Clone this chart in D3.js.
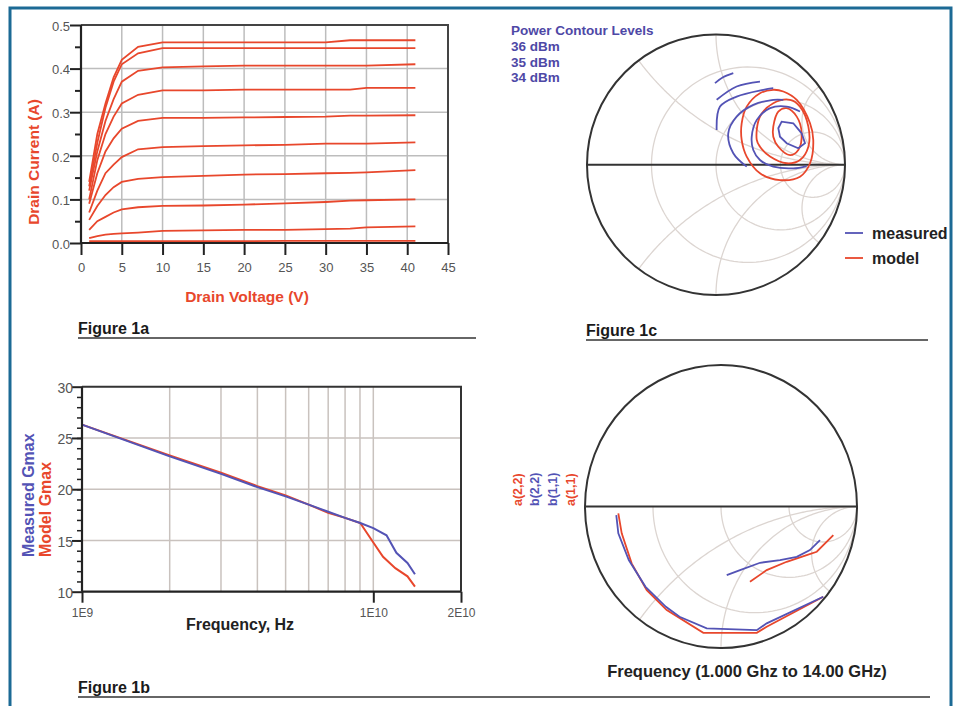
<!DOCTYPE html>
<html>
<head>
<meta charset="utf-8">
<script src="https://cdn.jsdelivr.net/npm/d3@7"></script>
<style>
  body { margin: 0; background: #fff; }
  svg { display: block; }
  text { font-family: "Liberation Sans", Arial, sans-serif; }
</style>
</head>
<body>
<svg id="chart" width="960" height="706"></svg>
<script>
// ---------- Figure 1a : I-V curves ----------
var drainVoltage = [1, 2, 3, 4, 5, 7, 10, 15, 20, 25, 30, 33, 35, 41];
var idCurve1  = [0.14, 0.25, 0.32, 0.38, 0.42, 0.45, 0.46, 0.46, 0.46, 0.46, 0.46, 0.465, 0.465, 0.465];
var idCurve2  = [0.13, 0.23, 0.31, 0.37, 0.41, 0.435, 0.447, 0.447, 0.447, 0.447, 0.447, 0.447, 0.447, 0.447];
var idCurve3  = [0.12, 0.21, 0.28, 0.33, 0.37, 0.395, 0.403, 0.405, 0.407, 0.407, 0.407, 0.407, 0.407, 0.41];
var idCurve4  = [0.10, 0.19, 0.25, 0.29, 0.32, 0.34, 0.35, 0.35, 0.352, 0.352, 0.352, 0.352, 0.356, 0.356];
var idCurve5  = [0.09, 0.16, 0.21, 0.24, 0.262, 0.28, 0.287, 0.287, 0.288, 0.289, 0.29, 0.292, 0.292, 0.293];
var idCurve6  = [0.07, 0.12, 0.16, 0.18, 0.197, 0.215, 0.22, 0.222, 0.224, 0.225, 0.228, 0.228, 0.228, 0.231];
var idCurve7  = [0.053, 0.085, 0.11, 0.128, 0.14, 0.147, 0.151, 0.154, 0.157, 0.158, 0.16, 0.161, 0.162, 0.167];
var idCurve8  = [0.03, 0.05, 0.06, 0.07, 0.077, 0.082, 0.085, 0.086, 0.088, 0.091, 0.094, 0.097, 0.098, 0.1];
var idCurve9  = [0.011, 0.016, 0.019, 0.021, 0.022, 0.024, 0.028, 0.029, 0.03, 0.03, 0.032, 0.033, 0.036, 0.038];
var idCurve10 = [0.004, 0.004, 0.004, 0.004, 0.004, 0.004, 0.004, 0.004, 0.004, 0.005, 0.005, 0.005, 0.005, 0.005];
var voltageTicks = [0, 5, 10, 15, 20, 25, 30, 35, 40, 45];
var currentTicks = [0, 0.1, 0.2, 0.3, 0.4, 0.5];

// ---------- Figure 1b : Gmax vs frequency ----------
var freqMeasured = [1e9, 2e9, 3e9, 4e9, 5e9, 6e9, 7e9, 8e9, 9.02e9, 1.0e10, 1.11e10, 1.2e10, 1.31e10, 1.39e10];
var gmaxMeasured = [26.3, 23.2, 21.5, 20.2, 19.3, 18.5, 17.8, 17.2, 16.7, 16.2, 15.5, 13.8, 12.8, 11.7];
var freqModel    = [1e9, 2e9, 3e9, 4e9, 5e9, 6e9, 7e9, 8e9, 9.02e9, 1.0e10, 1.08e10, 1.19e10, 1.31e10, 1.39e10];
var gmaxModel    = [26.3, 23.3, 21.6, 20.3, 19.4, 18.5, 17.7, 17.2, 16.7, 14.8, 13.4, 12.3, 11.5, 10.5];
var gmaxTicks = [10, 15, 20, 25, 30];
var freqGrid = [2e9, 3e9, 4e9, 5e9, 6e9, 7e9, 8e9, 9e9, 1e10];
var freqLabels = [[1e9, "1E9"], [1e10, "1E10"], [2e10, "2E10"]];

// ---------- Figure 1c : power contours (reflection coefficient re, im) ----------
var measured36 = [[0.483,0.280],[0.509,0.330],[0.599,0.318],[0.664,0.241],[0.690,0.165],[0.638,0.126],[0.548,0.165],[0.496,0.215]];
var model36 = [[0.444,0.292],[0.483,0.408],[0.548,0.434],[0.626,0.369],[0.664,0.242],[0.638,0.113],[0.574,0.074],[0.483,0.138],[0.444,0.215]];
var model35 = [[0.316,0.190],[0.341,0.369],[0.444,0.472],[0.574,0.498],[0.651,0.446],[0.716,0.292],[0.716,0.138],[0.651,0.036],[0.548,0.011],[0.419,0.062],[0.341,0.138]];
var model34 = [[0.199,0.190],[0.199,0.318],[0.238,0.446],[0.341,0.549],[0.444,0.575],[0.522,0.562],[0.626,0.497],[0.729,0.318],[0.754,0.190],[0.729,0.011],[0.651,-0.092],[0.496,-0.118],[0.341,-0.066],[0.238,0.062]];
var measured35 = [[0.703,-0.010],[0.599,-0.028],[0.444,-0.015],[0.341,0.036],[0.289,0.113],[0.277,0.215],[0.316,0.344],[0.419,0.434],[0.548,0.446],[0.651,0.408]];
var measured34 = [[0.238,-0.015],[0.134,0.088],[0.095,0.241],[0.160,0.369],[0.289,0.459],[0.444,0.498],[0.522,0.498]];
var measuredArcA = [[-0.008,0.626],[0.054,0.671],[0.134,0.703]];
var measuredArcB = [[0.005,0.498],[0.160,0.600],[0.341,0.638]];
var measuredArcC = [[0.005,0.267],[0.031,0.446],[0.160,0.523],[0.367,0.575],[0.444,0.588]];
var contourLevels = ["36 dBm", "35 dBm", "34 dBm"];

// ---------- Figure 1d : a/b waves 1 to 14 GHz ----------
var b11 = [[-0.77,-0.06],[-0.755,-0.189],[-0.678,-0.378],[-0.555,-0.567],[-0.405,-0.708],[-0.305,-0.779],[-0.105,-0.861],[0.263,-0.873],[0.336,-0.825],[0.752,-0.637]];
var a11 = [[-0.755,-0.048],[-0.730,-0.189],[-0.657,-0.401],[-0.546,-0.590],[-0.399,-0.731],[-0.130,-0.892],[0.263,-0.892],[0.336,-0.849],[0.752,-0.637]];
var b22 = [[0.042,-0.484],[0.140,-0.449],[0.287,-0.397],[0.434,-0.378],[0.557,-0.355],[0.654,-0.307],[0.728,-0.237]];
var a22 = [[0.213,-0.531],[0.336,-0.449],[0.483,-0.390],[0.630,-0.343],[0.704,-0.319],[0.826,-0.201]];
var smithR = [1/3, 1, 3];
var smithX = [0.5, 1, 3];

var RED = "#e8472c", BLUE = "#5353b5", TITLE_BLUE = "#4e48a6", GRID = "#c9c2be", SMITH_GRID = "#dcd5d1";

var svg = d3.select("#chart");
svg.append("rect").attr("width", 960).attr("height", 706).attr("fill", "#fff");
svg.append("rect").attr("x", 10).attr("y", 8).attr("width", 941).attr("height", 720)
  .attr("fill", "none").attr("stroke", "#1c6a95").attr("stroke-width", 3);

function styleAxis(g, size) {
  g.select(".domain").remove();
  g.selectAll(".tick line").attr("stroke", "#222").attr("stroke-width", 2);
  g.selectAll(".tick text").attr("fill", "#555").attr("font-size", size || 13)
    .attr("font-family", "'Liberation Sans', Arial, sans-serif");
}

function figureLabel(txt, x, y, x2) {
  svg.append("text").attr("x", x).attr("y", y).attr("font-size", 16).attr("font-weight", "bold")
    .attr("fill", "#1a1a1a").text(txt);
  svg.append("line").attr("x1", x).attr("x2", x2).attr("y1", y + 4).attr("y2", y + 4)
    .attr("stroke", "#333").attr("stroke-width", 1.5);
}

// ================= Figure 1a =================
(function () {
  var x = d3.scaleLinear().domain([0, 45]).range([81, 448]);
  var y = d3.scaleLinear().domain([0, 0.5]).range([243, 25]);
  var g = svg.append("g");

  // grid
  g.selectAll(".vg").data(voltageTicks.slice(1, -1)).enter().append("line")
    .attr("x1", d => x(d)).attr("x2", d => x(d)).attr("y1", y(0.5)).attr("y2", y(0))
    .attr("stroke", "#bdbdbd").attr("stroke-width", 1.5);
  g.selectAll(".hg").data(currentTicks.slice(1, -1)).enter().append("line")
    .attr("x1", x(0)).attr("x2", x(45)).attr("y1", d => y(d)).attr("y2", d => y(d))
    .attr("stroke", "#bdbdbd").attr("stroke-width", 1.5);

  // frame
  g.append("path").attr("d", "M" + x(0) + "," + y(0.5) + "H" + x(45) + "V" + y(0))
    .attr("fill", "none").attr("stroke", "#444").attr("stroke-width", 2);

  // curves
  var curves = [idCurve1, idCurve2, idCurve3, idCurve4, idCurve5, idCurve6, idCurve7, idCurve8, idCurve9, idCurve10];
  var line = d3.line().x((d, i) => x(drainVoltage[i])).y(d => y(d));
  g.selectAll(".iv").data(curves).enter().append("path")
    .attr("d", line).attr("fill", "none").attr("stroke", RED).attr("stroke-width", 1.8);

  // axes
  var minor = d3.range(0.05, 0.5, 0.1);
  var ya2 = g.append("g").attr("transform", "translate(" + x(0) + ",0)")
    .call(d3.axisLeft(y).tickValues(minor).tickSize(6).tickFormat(""));
  styleAxis(ya2);
  var ya = g.append("g").attr("transform", "translate(" + x(0) + ",0)")
    .call(d3.axisLeft(y).tickValues(currentTicks).tickSize(11).tickPadding(0).tickFormat(d3.format(".1f")));
  styleAxis(ya);
  ya.selectAll(".tick text").attr("dy", "0.4em");
  var xa = g.append("g").attr("transform", "translate(0," + y(0) + ")")
    .call(d3.axisBottom(x).tickValues(voltageTicks).tickSize(12).tickPadding(8));
  styleAxis(xa);
  g.append("line").attr("x1", x(0)).attr("x2", x(45)).attr("y1", y(0)).attr("y2", y(0))
    .attr("stroke", "#222").attr("stroke-width", 2.2);
  g.append("line").attr("x1", x(0)).attr("x2", x(0)).attr("y1", y(0.5)).attr("y2", y(0))
    .attr("stroke", "#222").attr("stroke-width", 2.2);

  g.append("text").attr("transform", "translate(39,162) rotate(-90)").attr("text-anchor", "middle")
    .attr("font-size", 15.5).attr("font-weight", "bold").attr("fill", RED).text("Drain Current (A)");
  g.append("text").attr("x", 247).attr("y", 302).attr("text-anchor", "middle")
    .attr("font-size", 15.5).attr("font-weight", "bold").attr("fill", RED).text("Drain Voltage (V)");
})();
figureLabel("Figure 1a", 78, 334, 476);

// ================= Figure 1b =================
(function () {
  var x = d3.scaleLog().domain([1e9, 2e10]).range([82, 461]);
  var y = d3.scaleLinear().domain([10, 30]).range([591.7, 386.7]);
  var g = svg.append("g");

  g.selectAll(".vg").data(freqGrid).enter().append("line")
    .attr("x1", d => x(d)).attr("x2", d => x(d)).attr("y1", y(30)).attr("y2", y(10))
    .attr("stroke", GRID).attr("stroke-width", 1.5);
  g.selectAll(".hg").data(gmaxTicks.slice(1, -1)).enter().append("line")
    .attr("x1", x(1e9)).attr("x2", x(2e10)).attr("y1", d => y(d)).attr("y2", d => y(d))
    .attr("stroke", GRID).attr("stroke-width", 1.5);
  g.append("path").attr("d", "M" + x(1e9) + "," + y(30) + "H" + x(2e10) + "V" + y(10))
    .attr("fill", "none").attr("stroke", "#333").attr("stroke-width", 2);

  var lineM = d3.line().x((d, i) => x(freqMeasured[i])).y(d => y(d));
  var lineR = d3.line().x((d, i) => x(freqModel[i])).y(d => y(d));
  g.append("path").attr("d", lineR(gmaxModel)).attr("fill", "none").attr("stroke", RED).attr("stroke-width", 2);
  g.append("path").attr("d", lineM(gmaxMeasured)).attr("fill", "none").attr("stroke", BLUE).attr("stroke-width", 2);

  var ya2 = g.append("g").attr("transform", "translate(" + x(1e9) + ",0)")
    .call(d3.axisLeft(y).tickValues(d3.range(11, 30, 1)).tickSize(5).tickFormat(""));
  styleAxis(ya2);
  ya2.selectAll(".tick line").attr("stroke-width", 1.5);
  var ya = g.append("g").attr("transform", "translate(" + x(1e9) + ",0)")
    .call(d3.axisLeft(y).tickValues(gmaxTicks).tickSize(10).tickPadding(-1));
  styleAxis(ya, 14);
  ya.selectAll(".tick text").attr("dy", "0.4em");
  var xa = g.append("g").attr("transform", "translate(0," + y(10) + ")")
    .call(d3.axisBottom(x).tickValues(freqLabels.map(d => d[0])).tickSize(11).tickPadding(6)
      .tickFormat((d, i) => freqLabels[i][1]));
  styleAxis(xa, 12);
  g.append("line").attr("x1", x(1e9)).attr("x2", x(2e10)).attr("y1", y(10)).attr("y2", y(10))
    .attr("stroke", "#222").attr("stroke-width", 2.2);
  g.append("line").attr("x1", x(1e9)).attr("x2", x(1e9)).attr("y1", y(30)).attr("y2", y(10))
    .attr("stroke", "#222").attr("stroke-width", 2.2);

  g.append("text").attr("transform", "translate(34,557) rotate(-90)")
    .attr("font-size", 16).attr("font-weight", "bold").attr("fill", BLUE).text("Measured Gmax");
  g.append("text").attr("transform", "translate(51,557) rotate(-90)")
    .attr("font-size", 16).attr("font-weight", "bold").attr("fill", RED).text("Model Gmax");
  g.append("text").attr("x", 240).attr("y", 630).attr("text-anchor", "middle")
    .attr("font-size", 16).attr("font-weight", "bold").attr("fill", "#222").text("Frequency, Hz");
})();
figureLabel("Figure 1b", 78, 693, 930);

// ================= Smith chart helper =================
function gammaOf(r, xx) {
  var d = (r + 1) * (r + 1) + xx * xx;
  return [(r * r + xx * xx - 1) / d, 2 * xx / d];
}
function smith(cx, cy, rx, ry, halves) {
  var sx = d3.scaleLinear().domain([-1, 1]).range([cx - rx, cx + rx]);
  var sy = d3.scaleLinear().domain([-1, 1]).range([cy + ry, cy - ry]);
  var line = d3.line().x(d => sx(d[0])).y(d => sy(d[1]));
  var g = svg.append("g");
  var params = [0].concat(d3.range(-2.5, 3.01, 0.02).map(e => Math.pow(10, e)));
  var grid = [];
  halves.forEach(function (s) {
    smithR.forEach(function (r) { grid.push(params.map(p => gammaOf(r, s * p))); });
    smithX.forEach(function (xx) { grid.push(params.map(p => gammaOf(p, s * xx))); });
  });
  g.selectAll(".grid").data(grid).enter().append("path").attr("d", line)
    .attr("fill", "none").attr("stroke", SMITH_GRID).attr("stroke-width", 1.3);
  g.append("ellipse").attr("cx", cx).attr("cy", cy).attr("rx", rx).attr("ry", ry)
    .attr("fill", "none").attr("stroke", "#333").attr("stroke-width", 2);
  g.append("line").attr("x1", sx(-1)).attr("x2", sx(1)).attr("y1", sy(0)).attr("y2", sy(0))
    .attr("stroke", "#333").attr("stroke-width", 2);
  return { g: g, line: line, sx: sx, sy: sy };
}

// ================= Figure 1c =================
(function () {
  var s = smith(716, 164.7, 129, 130.3, [1, -1]);
  var closed = d3.line().x(d => s.sx(d[0])).y(d => s.sy(d[1])).curve(d3.curveCatmullRomClosed);
  var open = d3.line().x(d => s.sx(d[0])).y(d => s.sy(d[1])).curve(d3.curveCatmullRom);
  [model34, model35, model36].forEach(function (c) {
    s.g.append("path").attr("d", closed(c)).attr("fill", "none").attr("stroke", RED).attr("stroke-width", 1.8);
  });
  s.g.append("path").attr("d", d3.line().x(d => s.sx(d[0])).y(d => s.sy(d[1])).curve(d3.curveLinearClosed)(measured36))
    .attr("fill", "none").attr("stroke", BLUE).attr("stroke-width", 1.8);
  [measured35, measured34, measuredArcA, measuredArcB, measuredArcC].forEach(function (c) {
    s.g.append("path").attr("d", open(c)).attr("fill", "none").attr("stroke", BLUE).attr("stroke-width", 1.8);
  });

  svg.append("text").attr("x", 511).attr("y", 35).attr("font-size", 13.5).attr("font-weight", "bold")
    .attr("fill", TITLE_BLUE).text("Power Contour Levels");
  svg.selectAll(".lvl").data(contourLevels).enter().append("text")
    .attr("x", 511).attr("y", (d, i) => 51 + i * 15.5).attr("font-size", 13.5).attr("font-weight", "bold")
    .attr("fill", TITLE_BLUE).text(d => d);

  var legend = [["measured", BLUE, 233], ["model", RED, 258]];
  legend.forEach(function (l) {
    svg.append("line").attr("x1", 845).attr("x2", 863).attr("y1", l[2]).attr("y2", l[2])
      .attr("stroke", l[1]).attr("stroke-width", 1.8);
    svg.append("text").attr("x", 872).attr("y", l[2] + 6).attr("font-size", 16).attr("font-weight", "bold")
      .attr("fill", "#222").text(l[0]);
  });
})();
figureLabel("Figure 1c", 586, 336, 928);

// ================= Figure 1d =================
(function () {
  var s = smith(721, 506.6, 136, 141.5, [-1]);
  var open = d3.line().x(d => s.sx(d[0])).y(d => s.sy(d[1]));
  [[a11, RED], [b11, BLUE], [a22, RED], [b22, BLUE]].forEach(function (c) {
    s.g.append("path").attr("d", open(c[0])).attr("fill", "none").attr("stroke", c[1]).attr("stroke-width", 1.8);
  });
  var labels = [["a(2,2)", RED, 522], ["b(2,2)", BLUE, 539], ["b(1,1)", BLUE, 557], ["a(1,1)", RED, 575]];
  labels.forEach(function (l) {
    svg.append("text").attr("transform", "translate(" + l[2] + ",506) rotate(-90)")
      .attr("font-size", 12.5).attr("font-weight", "bold").attr("fill", l[1]).text(l[0]);
  });
  svg.append("text").attr("x", 747).attr("y", 677).attr("text-anchor", "middle")
    .attr("font-size", 16.5).attr("font-weight", "bold").attr("fill", "#222")
    .text("Frequency (1.000 Ghz to 14.00 GHz)");
})();
</script>
</body>
</html>
